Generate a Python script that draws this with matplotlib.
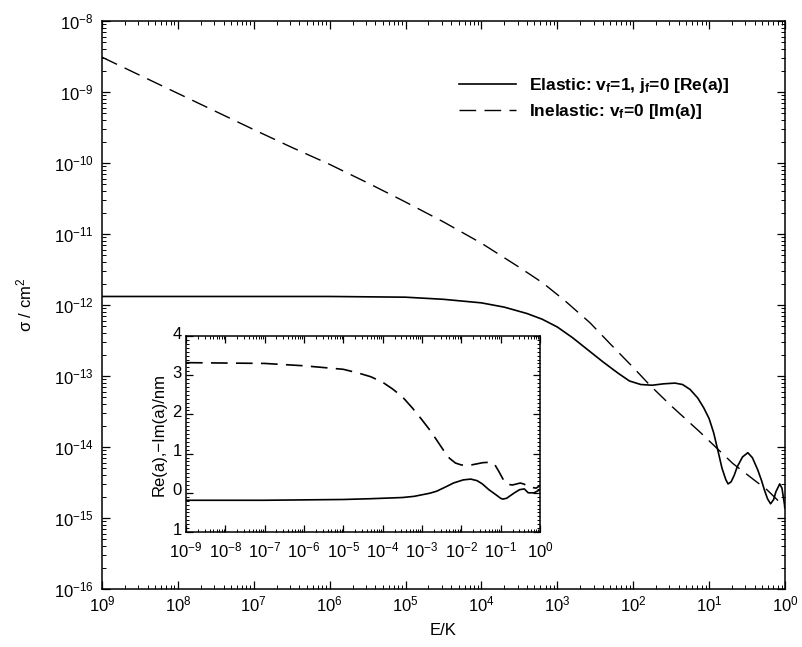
import numpy as np
import matplotlib
matplotlib.use("Agg")
import matplotlib.pyplot as plt
import matplotlib.transforms as mtransforms
from matplotlib.ticker import (LogLocator, FixedLocator, FuncFormatter, MultipleLocator,
                               NullFormatter)

plt.rcParams['font.family'] = ['Liberation Sans', 'DejaVu Sans']
plt.rcParams['mathtext.fontset'] = 'custom'
plt.rcParams['mathtext.rm'] = 'Liberation Sans'
plt.rcParams['mathtext.it'] = 'Liberation Sans'
plt.rcParams['mathtext.bf'] = 'Liberation Sans:bold'

# main panel, values as log10(E/K) and log10(sigma/cm^2)
elastic_logE = [-9, -8, -7, -6, -5, -4.5, -4.0, -3.7, -3.4, -3.2, -3.0, -2.8, -2.6, -2.4,
                -2.2, -2.05, -1.9, -1.75, -1.6, -1.45, -1.35, -1.25, -1.15, -1.07, -1.0,
                -0.94, -0.88, -0.83, -0.78, -0.75, -0.71, -0.67, -0.63, -0.56, -0.49,
                -0.43, -0.36, -0.31, -0.27, -0.23, -0.19, -0.15, -0.12, -0.07, -0.04, 0]
elastic_logS = [-11.88, -11.88, -11.88, -11.88, -11.89, -11.92, -11.97, -12.03, -12.12,
                -12.20, -12.31, -12.46, -12.63, -12.80, -12.96, -13.07, -13.12, -13.13,
                -13.11, -13.10, -13.12, -13.19, -13.31, -13.45, -13.60, -13.80, -14.07,
                -14.30, -14.46, -14.52, -14.49, -14.40, -14.28, -14.14, -14.08, -14.15,
                -14.32, -14.47, -14.61, -14.73, -14.80, -14.74, -14.63, -14.52, -14.58,
                -14.86]

inelastic_logE = [-9, -8, -7, -6.5, -6, -5.5, -5, -4.5, -4, -3.5, -3.19, -2.9, -2.57,
                  -2.31, -2.0, -1.78, -1.5, -1.12, -0.69, -0.4, -0.24, 0]
inelastic_logS = [-8.51, -9.02, -9.53, -9.78, -10.02, -10.28, -10.55, -10.83, -11.13,
                  -11.47, -11.69, -11.94, -12.25, -12.54, -12.88, -13.13, -13.42, -13.79,
                  -14.23, -14.47, -14.60, -14.85]

# inset, scattering length (nm)
re_logE = [-9, -8, -7, -6, -5, -4.3, -3.5, -3.2, -3.0, -2.8, -2.63, -2.4, -2.2, -1.95,
           -1.76, -1.6, -1.47, -1.3, -1.12, -1.0, -0.95, -0.85, -0.78, -0.65, -0.52,
           -0.4, -0.3, -0.15, 0]
re_a = [-0.19, -0.19, -0.19, -0.18, -0.17, -0.15, -0.12, -0.09, -0.05, -0.01, 0.04, 0.15,
        0.25, 0.33, 0.35, 0.31, 0.23, 0.08, -0.05, -0.14, -0.16, -0.14, -0.09, 0.0, 0.08,
        0.10, 0.0, 0.0, 0.08]

im_logE = [-9, -8, -7, -6, -5, -4.6, -4.3, -4.0, -3.75, -3.5, -3.25, -3.0, -2.8, -2.63,
           -2.45, -2.3, -2.15, -2.0, -1.75, -1.6, -1.45, -1.25, -1.15, -1.05, -0.93,
           -0.85, -0.7, -0.5, -0.4, -0.3, -0.1, 0]
im_a = [3.32, 3.31, 3.30, 3.24, 3.15, 3.05, 2.96, 2.82, 2.65, 2.45, 2.17, 1.86, 1.60,
        1.35, 1.08, 0.88, 0.76, 0.71, 0.71, 0.74, 0.77, 0.78, 0.72, 0.55, 0.33, 0.22,
        0.20, 0.25, 0.22, 0.15, 0.12, 0.18]

main_labels = ['Elastic: v$_\\mathbf{f}$=1, j$_\\mathbf{f}$=0 [Re(a)]',
               'Inelastic: v$_\\mathbf{f}$=0 [Im(a)]']

x_decades = np.arange(-9, 1)
y_decades = np.arange(-16, -7)


def style_axis(ax, size):
	ax.tick_params(which='both', direction='in', top=True, right=True, labelsize=size)
	ax.tick_params(which='major', length=6, width=0.9)
	ax.tick_params(which='minor', length=3, width=0.7)
	for s in ax.spines.values():
		s.set_linewidth(1.1)


fig = plt.figure(figsize=(8.03, 6.47), dpi=100)
ax = fig.add_axes([0.127, 0.0896, 0.8506, 0.878])

ax.plot(10**np.array(elastic_logE), 10**np.array(elastic_logS), color='black', lw=1.2,
        label=main_labels[0])
ax.plot(10**np.array(inelastic_logE), 10**np.array(inelastic_logS), color='black', lw=1.0,
        linestyle=(0, (12, 6)), label=main_labels[1])
ax.set_xscale('log')
ax.set_yscale('log')
ax.set_xlim(1e-9, 1)
ax.set_ylim(1e-16, 1e-8)
ax.xaxis.set_major_locator(FixedLocator(10.0**x_decades))
ax.xaxis.set_minor_locator(LogLocator(base=10, subs=np.arange(2, 10), numticks=20))
ax.yaxis.set_major_locator(FixedLocator(10.0**y_decades))
ax.yaxis.set_minor_locator(LogLocator(base=10, subs=np.arange(2, 10), numticks=20))
ax.xaxis.set_minor_formatter(NullFormatter())
ax.yaxis.set_minor_formatter(NullFormatter())
# the printed x labels carry no minus sign
ax.xaxis.set_major_formatter(FuncFormatter(lambda v, p: r'$10^{%d}$' % abs(round(np.log10(v)))))
ax.yaxis.set_major_formatter(FuncFormatter(lambda v, p: r'$10^{%d}$' % round(np.log10(v))))
style_axis(ax, 12)
ax.tick_params(axis='x', which='major', pad=4)
ax.tick_params(axis='y', which='major', pad=6)
ax.set_xlabel('E/K', fontsize=12, labelpad=6)
ax.set_ylabel('σ / cm$^2$', fontsize=12, labelpad=14)

leg = ax.legend(loc='upper left', bbox_to_anchor=(0.5, 0.93), frameon=False,
                handlelength=3.3, handletextpad=0.7, labelspacing=0.4,
                prop={'weight': 'bold', 'size': 12.5})

# inset
ins = fig.add_axes([0.2316, 0.1777, 0.4409, 0.303])
ins.plot(10**np.array(re_logE), re_a, color='black', lw=1.2)
ins.plot(10**np.array(im_logE), im_a, color='black', lw=1.2, linestyle=(0, (10, 5)))
ins.set_xscale('log')
ins.set_xlim(1e-9, 1)
ins.set_ylim(-1, 4)
ins.xaxis.set_major_locator(FixedLocator(10.0**x_decades))
ins.xaxis.set_minor_locator(LogLocator(base=10, subs=np.arange(2, 10), numticks=20))
ins.xaxis.set_minor_formatter(NullFormatter())
ins.xaxis.set_major_formatter(FuncFormatter(lambda v, p: r'$10^{%d}$' % round(np.log10(v))))
ins.yaxis.set_major_locator(MultipleLocator(1))
ins.yaxis.set_minor_locator(MultipleLocator(0.1))
ins.yaxis.set_major_formatter(FuncFormatter(lambda v, p: '%d' % abs(round(v))))
style_axis(ins, 12)
ins.tick_params(which='major', length=5)
ins.tick_params(which='minor', length=2.5)
ins.tick_params(axis='x', which='major', pad=6)
ins.tick_params(axis='y', which='major', pad=3)
ins.set_ylabel('Re(a),\u2212Im(a)/nm', fontsize=12, labelpad=4)

# lift the inset y labels a touch so the bottom one clears the x labels
lift = mtransforms.ScaledTranslation(0, 2.5 / 72, fig.dpi_scale_trans)
for lab in ins.get_yticklabels():
	lab.set_transform(lab.get_transform() + lift)

fig.savefig('out.png', dpi=100)
